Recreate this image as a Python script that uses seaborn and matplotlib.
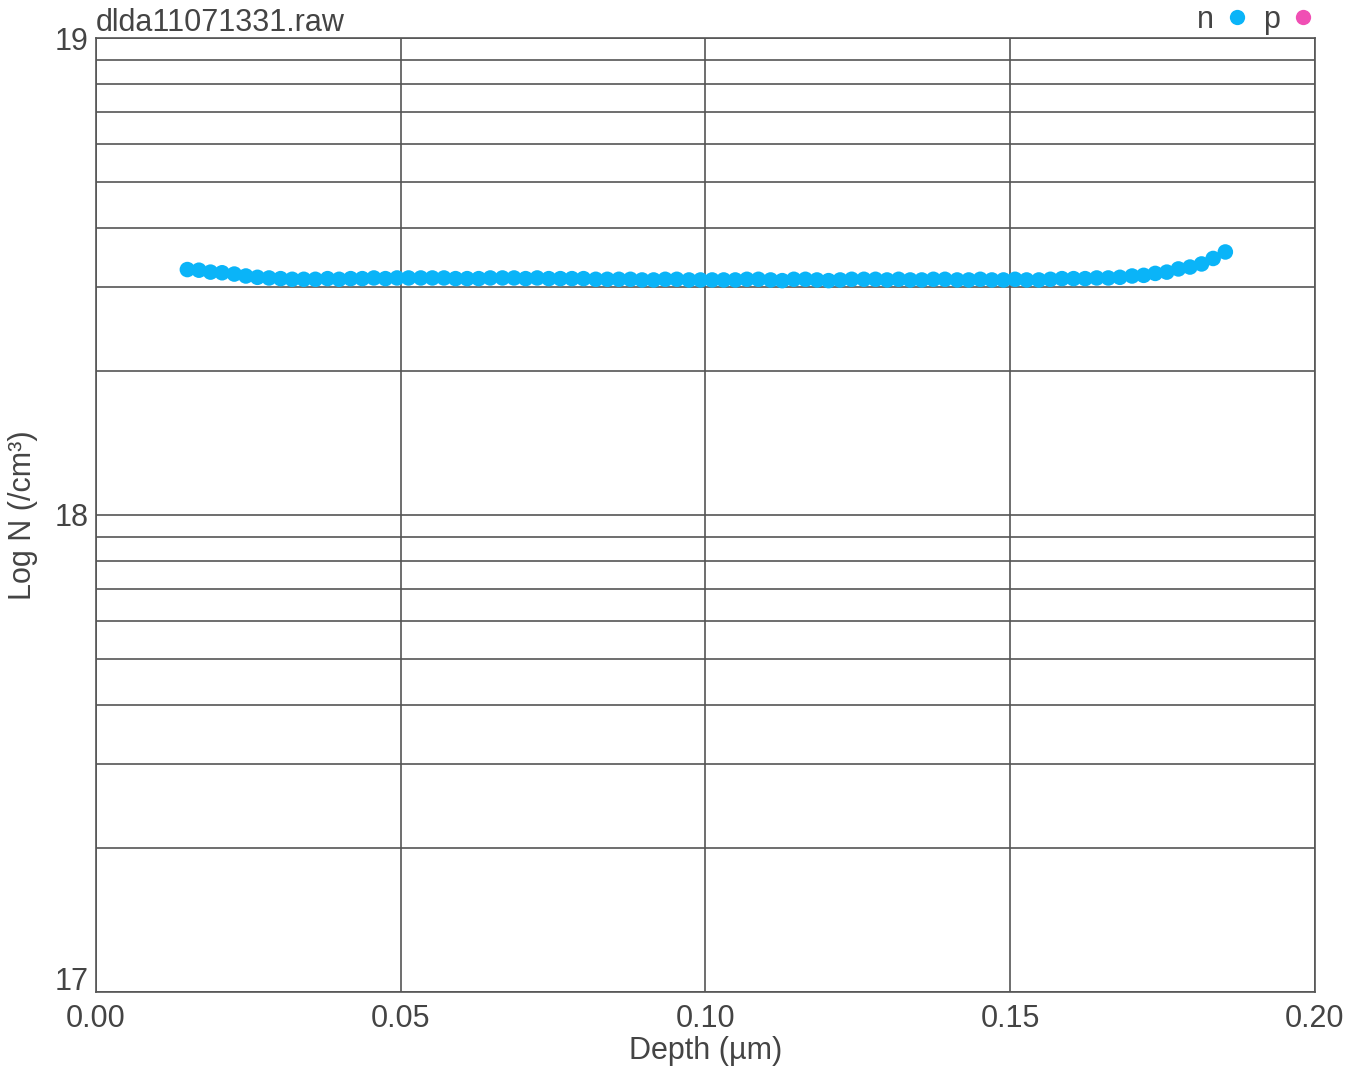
import matplotlib
matplotlib.use("Agg")
import matplotlib.pyplot as plt
import matplotlib.transforms as mtransforms
import numpy as np
import seaborn as sns
from matplotlib.lines import Line2D
from matplotlib.ticker import FuncFormatter, LogLocator, NullFormatter

# Depth (um) of each measured point
depth = [
    0.0150, 0.0169, 0.0188, 0.0207, 0.0227, 0.0246, 0.0265, 0.0284, 0.0303, 0.0322,
    0.0341, 0.0360, 0.0380, 0.0399, 0.0418, 0.0437, 0.0456, 0.0475, 0.0494, 0.0513,
    0.0533, 0.0552, 0.0571, 0.0590, 0.0609, 0.0628, 0.0647, 0.0667, 0.0686, 0.0705,
    0.0724, 0.0743, 0.0762, 0.0781, 0.0800, 0.0820, 0.0839, 0.0858, 0.0877, 0.0896,
    0.0915, 0.0934, 0.0953, 0.0973, 0.0992, 0.1011, 0.1030, 0.1049, 0.1068, 0.1087,
    0.1107, 0.1126, 0.1145, 0.1164, 0.1183, 0.1202, 0.1221, 0.1240, 0.1260, 0.1279,
    0.1298, 0.1317, 0.1336, 0.1355, 0.1374, 0.1393, 0.1413, 0.1432, 0.1451, 0.1470,
    0.1489, 0.1508, 0.1527, 0.1547, 0.1566, 0.1585, 0.1604, 0.1623, 0.1642, 0.1661,
    0.1680, 0.1700, 0.1719, 0.1738, 0.1757, 0.1776, 0.1795, 0.1814, 0.1833, 0.1853,
]

# n-type carrier concentration, in units of 1e18 /cm3
n_e18 = [
    3.27, 3.26, 3.23, 3.22, 3.20, 3.17, 3.15, 3.14, 3.13, 3.12,
    3.12, 3.12, 3.13, 3.12, 3.13, 3.13, 3.14, 3.13, 3.14, 3.14,
    3.14, 3.14, 3.14, 3.13, 3.13, 3.13, 3.14, 3.14, 3.14, 3.13,
    3.14, 3.13, 3.13, 3.13, 3.13, 3.12, 3.12, 3.12, 3.12, 3.11,
    3.11, 3.12, 3.12, 3.11, 3.11, 3.11, 3.11, 3.11, 3.12, 3.12,
    3.11, 3.10, 3.12, 3.12, 3.11, 3.10, 3.11, 3.12, 3.12, 3.12,
    3.11, 3.12, 3.11, 3.11, 3.12, 3.12, 3.11, 3.11, 3.12, 3.11,
    3.11, 3.12, 3.11, 3.11, 3.12, 3.13, 3.13, 3.13, 3.14, 3.14,
    3.15, 3.17, 3.18, 3.21, 3.23, 3.28, 3.31, 3.36, 3.45, 3.56,
]

x_ticks = [0.00, 0.05, 0.10, 0.15, 0.20]
legend_labels = ["n", "p"]

N_COLOR = "#0ab4f8"
P_COLOR = "#f04fb4"
GRID = "#555555"

sns.set_style("white")
plt.rcParams["font.family"] = ["Liberation Sans", "DejaVu Sans"]
plt.rcParams["text.color"] = "#444444"
plt.rcParams["axes.labelcolor"] = "#444444"

fig = plt.figure(figsize=(13.57, 10.71), dpi=100)
ax = fig.add_axes([0.0707, 0.0738, 0.8983, 0.8907])

n_conc = np.array(n_e18) * 1e18
sns.scatterplot(x=depth, y=n_conc, ax=ax, color=N_COLOR, s=125,
                edgecolor="none", linewidth=0, legend=False, zorder=3)

ax.set_yscale("log")
ax.set_ylim(1e17, 1e19)
ax.set_xlim(0.0, 0.2)
ax.set_xticks(x_ticks)
ax.xaxis.set_major_formatter(FuncFormatter(lambda v, p: f"{v:.2f}"))
ax.yaxis.set_major_locator(LogLocator(base=10, numticks=5))
ax.yaxis.set_minor_locator(LogLocator(base=10, subs=np.arange(2, 10), numticks=20))
ax.yaxis.set_major_formatter(FuncFormatter(lambda v, p: f"{np.log10(v):.0f}"))
ax.yaxis.set_minor_formatter(NullFormatter())

ax.grid(True, which="major", axis="both", color=GRID, linewidth=1.2)
ax.grid(True, which="minor", axis="y", color=GRID, linewidth=1.2)
for sp in ax.spines.values():
    sp.set_color(GRID)
    sp.set_linewidth(1.2)

ax.tick_params(axis="both", which="both", length=0, labelsize=22,
               labelcolor="#444444")
ax.tick_params(axis="x", pad=9)
ax.tick_params(axis="y", pad=5)

ax.set_xlabel("Depth (µm)", fontsize=22, labelpad=1)
ax.set_ylabel("Log N (/cm³)", fontsize=22, labelpad=12)
ax.set_title("dlda11071331.raw", loc="left", fontsize=22, pad=5,
             color="#444444")

handles = [
    Line2D([], [], linestyle="none", marker="o", markersize=11,
           markerfacecolor=N_COLOR, markeredgecolor="none"),
    Line2D([], [], linestyle="none", marker="o", markersize=11,
           markerfacecolor=P_COLOR, markeredgecolor="none"),
]
ax.legend(handles, legend_labels, ncol=2, markerfirst=False, frameon=False,
          loc="lower right", bbox_to_anchor=(1.0, 1.0), fontsize=22,
          borderpad=0.0, borderaxespad=0.1, handlelength=0.6,
          handletextpad=0.45, columnspacing=0.55)

# lift the bottom "17" label a little so it clears the "0.00" label
fig.canvas.draw()
for lab in ax.get_yticklabels():
    if lab.get_text() == "17":
        lab.set_transform(lab.get_transform() + mtransforms.ScaledTranslation(
            0, 10 / 72, fig.dpi_scale_trans))

fig.savefig("out.png", dpi=100)
plt.close(fig)
